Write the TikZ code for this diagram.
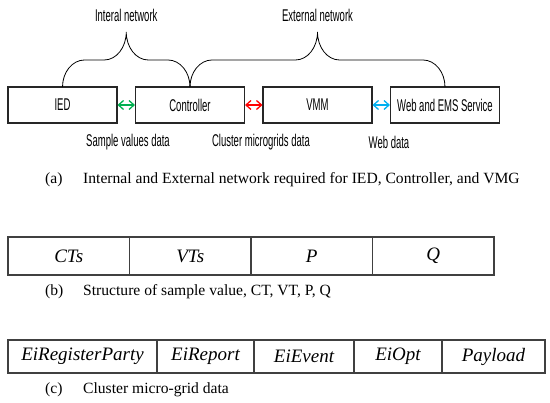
\documentclass[tikz,border=0pt]{standalone}
\usepackage{fontspec}
\setmainfont{Liberation Serif}
\newfontfamily\boxfont[FakeStretch=0.56]{Liberation Sans}
\usetikzlibrary{calc,arrows.meta}

\definecolor{svgreen}{RGB}{0,176,80}
\definecolor{cmred}{RGB}{255,0,0}
\definecolor{webblue}{RGB}{0,176,240}

\tikzset{
  box/.style={draw=black!85,line width=1.1pt,minimum width=109pt,minimum height=36pt,inner sep=0pt,font=\boxfont\fontsize{17}{20}\selectfont},
  lbl/.style={font=\boxfont\fontsize{17}{20}\selectfont,inner sep=0pt},
  dataarrow/.style={{Straight Barb[length=5pt,width=9pt]}-{Straight Barb[length=5pt,width=9pt]},line width=1.3pt},
  brace/.style={line width=0.8pt},
  capt/.style={font=\fontsize{15.6}{18}\selectfont,inner sep=0pt,anchor=west},
  cell/.style={font=\itshape\fontsize{19}{22}\selectfont,inner sep=0pt},
  tbl/.style={draw=black!75,line width=1.1pt}
}

\begin{document}
\begin{tikzpicture}[x=1pt,y=-1pt]
\useasboundingbox (0,0) rectangle (550,403);

%box info
\def\bw{109}
\def\gap{18.5}
\def\by{105}
\def\ytop{87}
\def\ym{60}
\def\ytip{32}
\def\rad{22}

%boxes
\foreach \n/\t [count=\i from 0] in {ied/IED,ctrl/Controller,vmm/VMM,web/Web and EMS Service}{
    \node[box] (\n) at ({8+\bw/2+\i*(\bw+\gap)},\by) {\t};
}

%arrows
\draw[dataarrow,svgreen] (ied)  -- (ctrl);
\draw[dataarrow,cmred]   (ctrl) -- (vmm);
\draw[dataarrow,webblue] (vmm)  -- (web);
\node[lbl] (svdata)  at (128,142) {Sample values data};
\node[lbl] (cmdata)  at (261,142) {Cluster microgrids data};
\node[lbl] (webdata) at (389,142) {Web data};

%braces
\foreach \i/\j/\n/\t in {0/1/intnet/Interal network,1/3/extnet/External network}{
    \pgfmathsetmacro\xa{8+\bw/2+\i*(\bw+\gap)}
    \pgfmathsetmacro\xb{8+\bw/2+\j*(\bw+\gap)}
    \pgfmathsetmacro\xm{(\xa+\xb)/2}
    \draw[brace] (\xa,\ytop) .. controls (\xa,{\ytop-0.552*(\ytop-\ym)}) and ({\xa+0.448*\rad},\ym) .. ({\xa+\rad},\ym)
        -- ({\xm-\rad},\ym) .. controls ({\xm-0.448*\rad},\ym) and (\xm,{\ytip+0.552*(\ym-\ytip)}) .. (\xm,\ytip)
        .. controls (\xm,{\ytip+0.552*(\ym-\ytip)}) and ({\xm+0.448*\rad},\ym) .. ({\xm+\rad},\ym)
        -- ({\xb-\rad},\ym) .. controls ({\xb-0.448*\rad},\ym) and (\xb,{\ytop-0.552*(\ytop-\ym)}) .. (\xb,\ytop);
    \node[lbl] (\n) at (\xm,15) {\t};
}

%caption a
\node[capt] (capa)  at (45,180) {(a)};
\node[capt] (capat) at (83,180) {Internal and External network required for IED, Controller, and VMG};

%table b
\draw[tbl] (8,237) rectangle (494,275);
\foreach \x in {129.5,251,372.5}{
    \draw[tbl] (\x,237) -- (\x,275);
}
\foreach \t [count=\i from 0] in {CTs,VTs,P,Q}{
    \node[cell] (cellb\i) at ({68.75+\i*121.5},256) {\t};
}
\node[capt] (capb)  at (45,292) {(b)};
\node[capt] (capbt) at (83,292) {Structure of sample value, CT, VT, P, Q};

%table c
\draw[tbl] (8,340) rectangle (545,373);
\foreach \l/\r/\t [count=\i] in {8/157/EiRegisterParty,157/254/EiReport,254/354/EiEvent,354/442/EiOpt,442/545/Payload}{
    \draw[tbl] (\r,340) -- (\r,373);
    \node[cell] (cellc\i) at ({(\l+\r)/2},356.5) {\t};
}
\node[capt] (capc)  at (45,390) {(c)};
\node[capt] (capct) at (83,390) {Cluster micro-grid data};

\end{tikzpicture}
\end{document}
